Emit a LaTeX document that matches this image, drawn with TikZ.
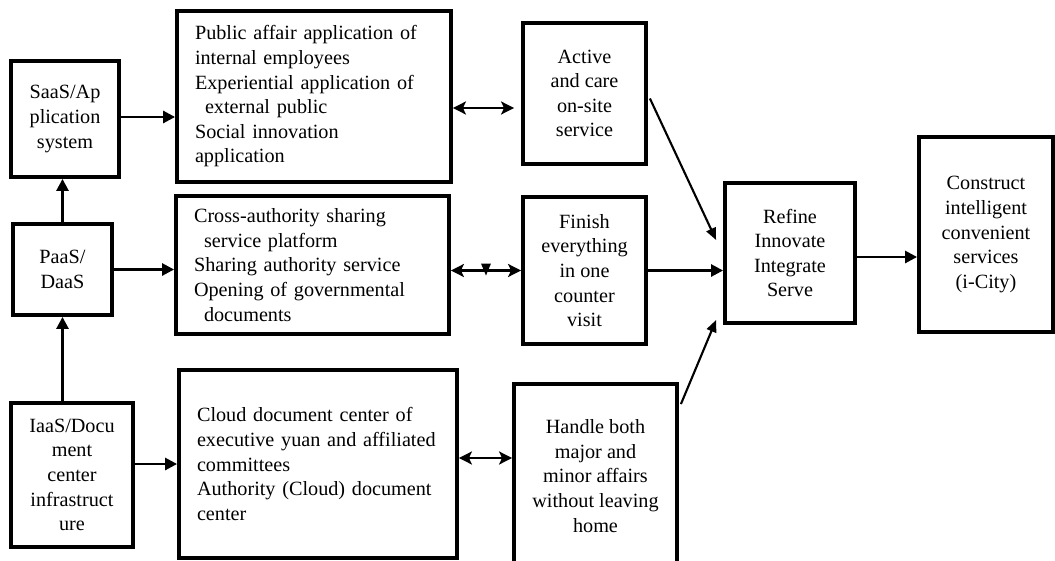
\documentclass[tikz,border=0pt]{standalone}
\usepackage{fontspec}
\setmainfont{Liberation Serif}
\usetikzlibrary{arrows.meta}

\tikzset{
  box/.style={draw, line width=2.2pt, align=center, inner sep=2pt,
              font=\fontsize{11.5}{14}\selectfont},
  listbox/.style={box, align=left, inner xsep=0.36cm},
  arr/.style={line width=1.5pt, -{Triangle[length=0.24cm,width=0.24cm]}},
  slim/.style={line width=1.2pt, -{Triangle[length=0.24cm,width=0.2cm]}},
  dbl/.style={line width=1.5pt,
              {Stealth[length=0.26cm,width=0.26cm,inset=0.06cm]}-{Stealth[length=0.26cm,width=0.26cm,inset=0.06cm]}},
}

\begin{document}
\begin{tikzpicture}[x=0.02cm, y=-0.02cm]
    \useasboundingbox (0,0) rectangle (1055,561);

    % --- Service layers (left column) ---
    \node[box, minimum width=2.16cm, minimum height=2.32cm] (saas) at (65,119)
        {SaaS/Ap\\plication\\system};
    \node[box, minimum width=1.98cm, minimum height=1.82cm] (paas) at (62.5,269.5)
        {PaaS/\\DaaS};
    \node[box, minimum width=2.44cm, minimum height=2.88cm] (iaas) at (72,475)
        {IaaS/Docu\\ment\\center\\infrastruct\\ure};

    % --- Applications and platforms ---
    \node[listbox, text width=4.76cm, minimum height=3.42cm] (pub) at (314,96.5)
        {Public affair application of\\internal employees\\Experiential application of\\
         \hspace*{0.2cm}external public\\Social innovation\\application};
    \node[listbox, text width=4.74cm, minimum height=2.76cm] (cross) at (312.5,265)
        {Cross-authority sharing\\\hspace*{0.2cm}service platform\\Sharing authority service\\
         Opening of governmental\\\hspace*{0.2cm}documents};
    \node[listbox, text width=4.84cm, minimum height=3.76cm] (cloud) at (318,464)
        {Cloud document center of\\executive yuan and affiliated\\committees\\
         Authority (Cloud) document\\center};

    % --- Services ---
    \node[box, minimum width=2.46cm, minimum height=2.82cm] (active) at (584.5,93.5)
        {Active\\and care\\on-site\\service};
    \node[box, minimum width=2.46cm, minimum height=2.94cm] (finish) at (584.5,270.5)
        {Finish\\everything\\in one\\counter\\visit};
    \node[box, minimum width=3.26cm, minimum height=3.68cm] (handle) at (595.5,476)
        {Handle both\\major and\\minor affairs\\without leaving\\home};

    % --- Goals ---
    \node[box, minimum width=2.6cm, minimum height=2.8cm] (refine) at (790,253)
        {Refine\\Innovate\\Integrate\\Serve};
    \node[box, minimum width=2.68cm, minimum height=3.9cm] (city) at (986,234.5)
        {Construct\\intelligent\\convenient\\services\\(i-City)};

    % --- Layer arrows ---
    \draw[arr] (paas.north) -- (paas.north |- saas.south);
    \draw[arr] (paas.south |- iaas.north) -- (paas.south);
    \draw[arr] ([yshift=0.04cm]saas.east) -- ([yshift=0.04cm]saas.east -| pub.west);
    \draw[arr] (paas.east) -- (paas.east -| cross.west);
    \draw[arr] (cloud.west -| iaas.east) -- (cloud.west);

    % --- Two-way links ---
    \draw[dbl, shorten >=0.14cm] ([yshift=-0.23cm]pub.east) -- ([yshift=-0.23cm]pub.east -| active.west);
    \draw[dbl] (cross.east |- finish.west) -- (finish.west) coordinate[midway] (tick);
    \fill (tick) ++(-5,-7) -- ++(10,0) -- ++(-5,12) -- cycle;
    \draw[dbl] ([yshift=0.12cm]cloud.east) -- ([yshift=0.12cm]cloud.east -| handle.west);

    % --- Into refine, then to i-City ---
    \draw[slim] ([shift={(2,5)}]active.east) -- ([shift={(-7,-13)}]refine.west);
    \draw[arr] (finish.east) -- (finish.east -| refine.west);
    \draw[slim] ([shift={(2,22)}]handle.north east) -- ([shift={(-7,67)}]refine.west);
    \draw[arr] ([yshift=-0.08cm]refine.east) -- ([yshift=-0.08cm]refine.east -| city.west);

\end{tikzpicture}
\end{document}
